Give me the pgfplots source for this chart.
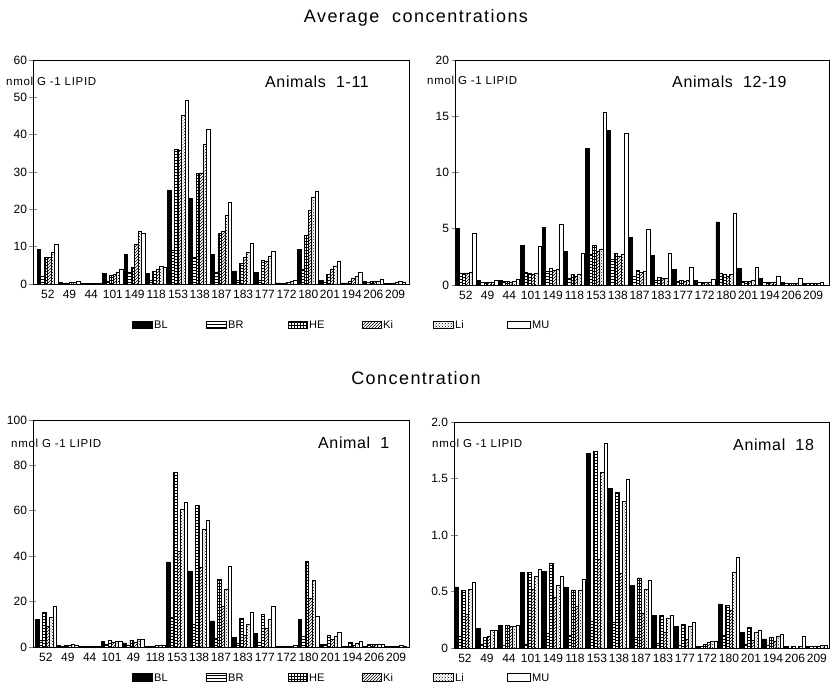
\documentclass[border=0pt]{standalone}
\usepackage{fontspec}
\setmainfont{Liberation Sans}
\newfontfamily\titlefam[LetterSpace=8]{Liberation Sans}
\newfontfamily\panelfam[LetterSpace=4]{Liberation Sans}
\newfontfamily\unitfam[LetterSpace=6]{Liberation Sans}
\usepackage{pgfplots}
\pgfplotsset{compat=1.18}
\usepackage{pgfplotstable}
\usetikzlibrary{patterns}

% Average concentrations, animals 1-11 (nmol/g lipid)
\pgfplotstableread{
x BL BR HE Ki Li MU
0 9.2 2.0 7.2 7.0 8.5 10.5
1 0.5 0.2 0.3 0.4 0.5 0.8
2 0.2 0.2 0.2 0.2 0.2 0.3
3 2.8 0.8 2.2 2.5 3.0 3.8
4 8.0 3.0 4.5 10.5 14.0 13.5
5 2.8 1.0 3.3 3.8 4.6 4.4
6 25.2 9.0 36.0 35.8 45.2 49.2
7 23.0 7.0 29.5 29.5 37.5 41.5
8 8.0 3.0 13.5 14.0 18.5 21.8
9 3.5 1.0 5.5 7.0 8.5 11.0
10 3.2 1.0 6.3 6.0 7.5 8.8
11 0.3 0.2 0.3 0.4 0.7 0.9
12 9.3 4.0 13.0 19.8 23.3 24.8
13 0.9 0.5 2.5 4.0 4.8 6.0
14 0.3 0.3 0.8 1.5 2.0 3.0
15 0.6 0.4 0.7 0.8 0.8 1.3
16 0.1 0.1 0.3 0.4 0.6 0.5
}\avgA

% Average concentrations, animals 12-19
\pgfplotstableread{
x BL BR HE Ki Li MU
0 5.0 1.0 1.0 1.0 1.1 4.6
1 0.4 0.2 0.2 0.2 0.2 0.4
2 0.4 0.3 0.3 0.2 0.3 0.5
3 3.5 1.1 1.0 0.9 1.0 3.4
4 5.1 1.2 1.5 1.3 1.4 5.4
5 3.0 0.6 0.9 0.8 0.9 2.8
6 12.1 2.7 3.5 3.0 3.2 15.3
7 13.7 2.3 2.8 2.5 2.7 13.5
8 4.2 0.8 1.3 1.1 1.2 4.9
9 2.6 0.4 0.7 0.6 0.6 2.8
10 1.4 0.3 0.4 0.3 0.4 1.6
11 0.4 0.2 0.2 0.2 0.2 0.5
12 5.6 1.0 0.9 0.8 0.9 6.4
13 1.5 0.3 0.3 0.3 0.4 1.6
14 0.6 0.2 0.2 0.2 0.2 0.8
15 0.2 0.1 0.1 0.1 0.1 0.6
16 0.1 0.1 0.1 0.1 0.1 0.2
}\avgB

% Concentration, animal 1
\pgfplotstableread{
x BL BR HE Ki Li MU
0 12.3 3.0 15.2 9.0 13.0 18.0
1 0.5 0.3 0.5 0.8 1.0 0.5
2 0.2 0.2 0.2 0.2 0.2 0.2
3 2.5 1.0 2.8 2.2 2.5 2.5
4 1.8 0.8 3.0 2.0 3.2 3.5
5 0.3 0.3 0.3 0.5 0.8 0.6
6 37.5 13.0 77.0 42.0 60.6 63.7
7 33.5 10.0 62.3 35.0 51.6 55.6
8 11.5 4.0 29.8 18.0 25.5 35.3
9 4.2 1.5 12.5 5.0 10.0 15.2
10 6.0 2.0 14.5 8.0 12.0 18.0
11 0.3 0.2 0.3 0.2 0.4 0.5
12 12.2 4.5 37.8 21.5 29.5 13.5
13 1.0 1.0 5.2 3.5 4.5 6.5
14 0.3 0.2 2.2 0.5 1.8 2.5
15 0.3 1.2 1.0 1.0 1.2 1.2
16 0.2 0.2 0.2 0.3 0.5 0.4
}\oneA

% Concentration, animal 18
\pgfplotstableread{
x BL BR HE Ki Li MU
0 0.54 0.10 0.51 0.30 0.52 0.58
1 0.17 0.03 0.09 0.10 0.16 0.16
2 0.20 0.02 0.20 0.19 0.19 0.20
3 0.67 0.03 0.67 0.52 0.63 0.70
4 0.68 0.13 0.75 0.45 0.55 0.63
5 0.54 0.11 0.51 0.37 0.51 0.61
6 1.72 0.24 1.74 0.78 1.55 1.81
7 1.41 0.23 1.38 0.66 1.30 1.49
8 0.55 0.09 0.62 0.31 0.52 0.60
9 0.29 0.04 0.29 0.14 0.26 0.29
10 0.19 0.02 0.21 0.08 0.19 0.23
11 0.01 0.01 0.03 0.05 0.06 0.06
12 0.39 0.11 0.38 0.33 0.67 0.80
13 0.14 0.03 0.18 0.07 0.14 0.16
14 0.08 0.02 0.09 0.06 0.10 0.12
15 0.01 0.00 0.01 0.00 0.01 0.10
16 0.01 0.01 0.01 0.01 0.02 0.02
}\oneB

\newcommand\tickfont{\fontsize{12}{13}\selectfont}
\newcommand\unitfont{\unitfam\fontsize{11.5}{12}\selectfont}
\newcommand\panelfont{\panelfam\fontsize{16}{17}\selectfont}
\newcommand\titlefont{\titlefam\fontsize{18}{20}\selectfont}
\newcommand\keyfont{\fontsize{11}{12}\selectfont}

\pgfplotsset{
  panel/.style={
    scale only axis, anchor=south west,
    axis line style={line width=0.9pt},
    ymin=0,
    xtick={0,...,16},
    major x tick style={draw=none},
    ytick style={line width=0.9pt},
    ytick pos=left, xtick pos=bottom,
    tick align=center, major tick length=7pt,
    yticklabel style={font=\tickfont, xshift=1pt},
    xticklabel style={font=\tickfont, yshift=1pt},
    /pgf/number format/assume math mode=true,
    clip=false,
  },
  bars/.style={ybar, bar width=0.16, draw=black, line width=0.75pt},
  pBL/.style={bars, bar shift=-0.40, fill=black},
  pBR/.style={bars, bar shift=-0.24, pattern=horizontal lines},
  pHE/.style={bars, bar shift=-0.08, pattern=grid},
  pKi/.style={bars, bar shift=0.08, pattern=north east lines},
  pLi/.style={bars, bar shift=0.24, pattern=crosshatch dots},
  pMU/.style={bars, bar shift=0.40, fill=white},
}

% six tissues per congener
\newcommand\sixbars[1]{%
  \addplot[pBL] table[x=x,y=BL]{#1};
  \addplot[pBR] table[x=x,y=BR]{#1};
  \addplot[pHE] table[x=x,y=HE]{#1};
  \addplot[pKi] table[x=x,y=Ki]{#1};
  \addplot[pLi] table[x=x,y=Li]{#1};
  \addplot[pMU] table[x=x,y=MU]{#1};
}

% legend row
\newcommand\keyrow[1]{%
  \begin{scope}[yshift=#1]
    \draw[line width=0.6pt, fill=black] (132,-3.8) rectangle (152,3.8);
    \node[anchor=west, inner sep=2pt, font=\keyfont] at (152,0) {BL};
    \draw[line width=0.6pt, pattern=horizontal lines] (206,-3.8) rectangle (226,3.8);
    \node[anchor=west, inner sep=2pt, font=\keyfont] at (226,0) {BR};
    \draw[line width=0.6pt, pattern=grid] (288,-3.8) rectangle (307,3.8);
    \node[anchor=west, inner sep=2pt, font=\keyfont] at (307,0) {HE};
    \draw[line width=0.6pt, pattern=north east lines] (362,-3.8) rectangle (381,3.8);
    \node[anchor=west, inner sep=2pt, font=\keyfont] at (381,0) {Ki};
    \draw[line width=0.6pt, pattern=crosshatch dots] (433,-3.8) rectangle (453,3.8);
    \node[anchor=west, inner sep=2pt, font=\keyfont] at (453,0) {Li};
    \draw[line width=0.6pt, fill=white] (507,-3.8) rectangle (530,3.8);
    \node[anchor=west, inner sep=2pt, font=\keyfont] at (530,0) {MU};
  \end{scope}
}

\begin{document}
\begin{tikzpicture}[x=1pt, y=1pt]
\path[use as bounding box] (0,0) rectangle (830,697);

\node[font=\titlefont] at (416,679) {Average\ \ concentrations};
\node[font=\titlefont] at (416,319) {Concentration};

% top left
\begin{axis}[panel, at={(33pt,413pt)}, width=376pt, height=224pt,
  xmin=-0.68, xmax=16.64, ymax=60, ytick={0,10,...,60},
  xticklabels={52,49,44,101,149,118,153,138,187,183,177,172,180,201,194,206,209}]
  \sixbars{\avgA}
\end{axis}

% top right
\begin{axis}[panel, at={(455pt,412pt)}, width=374pt, height=225pt,
  xmin=-0.5, xmax=16.73, ymax=20, ytick={0,5,...,20},
  xticklabels={52,49,44,101,149,118,153,138,187,183,177,172,180,201,194,206,209}]
  \sixbars{\avgB}
\end{axis}

% bottom left
\begin{axis}[panel, at={(33pt,50pt)}, width=376pt, height=227pt,
  xmin=-0.59, xmax=16.59, ymax=100, ytick={0,20,...,100},
  xticklabels={52,49,44,101,49,118,153,138,187,183,177,172,180,201,194,206,209}]
  \sixbars{\oneA}
\end{axis}

% bottom right
\begin{axis}[panel, at={(454pt,49pt)}, width=375pt, height=226pt,
  xmin=-0.5, xmax=16.55, ymax=2, ytick={0,0.5,1,1.5,2},
  yticklabels={0,0.5,1.0,1.5,2.0},
  xticklabels={52,49,44,101,149,118,153,138,187,183,177,172,180,201,194,206,209}]
  \sixbars{\oneB}
\end{axis}

% unit labels and panel captions
\node[anchor=west, inner sep=0pt, font=\unitfont] at (6,616) {nmol G -1 LIPID};
\node[anchor=west, inner sep=0pt, font=\unitfont] at (427,617) {nmol G -1 LIPID};
\node[anchor=west, inner sep=0pt, font=\unitfont] at (11,254) {nmol G -1 LIPID};
\node[anchor=west, inner sep=0pt, font=\unitfont] at (432,254) {nmol G -1 LIPID};

\node[anchor=west, inner sep=0pt, font=\panelfont] at (265,615) {Animals\ \ 1-11};
\node[anchor=west, inner sep=0pt, font=\panelfont] at (672,615) {Animals\ \ 12-19};
\node[anchor=west, inner sep=0pt, font=\panelfont] at (318,254) {Animal\ \ 1};
\node[anchor=west, inner sep=0pt, font=\panelfont] at (733,252) {Animal\ \ 18};

\keyrow{372pt}
\keyrow{19.5pt}
\end{tikzpicture}
\end{document}
